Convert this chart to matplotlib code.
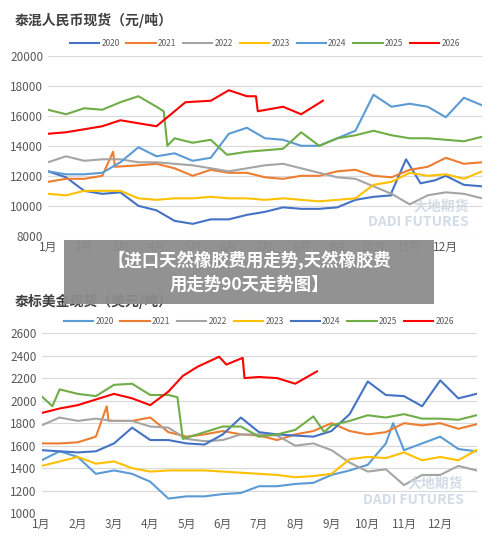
import matplotlib
matplotlib.use("Agg")
import matplotlib.pyplot as plt
from matplotlib.patches import Rectangle

plt.rcParams['font.family'] = ['Noto Sans CJK SC', 'DejaVu Sans']

months = [f"{i}月" for i in range(1, 13)]
years = ['2020', '2021', '2022', '2023', '2024', '2025', '2026']
grid05 = [i * 0.5 for i in range(25)]

# Top chart: 泰混人民币现货
top_x = {
    '2020': grid05[:20] + [9.5, 9.9, 10.3, 10.7, 11, 11.5, 12],
    '2021': grid05[:4] + [1.8, 1.85] + grid05[5:],
    '2022': grid05,
    '2023': grid05,
    '2024': grid05[:16] + [8, 8.5, 9, 9.5, 10, 10.5, 11, 11.5, 12],
    '2025': [0, 0.5, 1, 1.5, 2, 2.5, 3, 3.2, 3.3, 3.5, 4, 4.5, 4.95, 5.5, 6, 6.5, 7, 7.5, 8, 8.5, 9, 9.5, 10, 10.5, 11, 11.5, 12],
    '2026': [0, 0.5, 1, 1.5, 2, 2.5, 3, 3.3, 3.8, 4.5, 5, 5.5, 5.75, 5.8, 6.5, 7, 7.6],
}
top_y = {
    '2020': [12300, 11900, 11000, 10800, 10900, 10000, 9700, 9000, 8800, 9100, 9100, 9400, 9600, 9900, 9800, 9800, 9900, 10400, 10600, 10700,
             10900, 13100, 11500, 11700, 12000, 11400, 11300],
    '2021': [11600, 11800, 11800, 12000, 13600, 12600, 12700, 12800, 12500, 12000, 12400, 12200, 12200, 11900, 11800, 12000, 12000, 12300, 12400,
             12000, 11900, 12400, 12600, 13200, 12800, 12900],
    '2022': [12900, 13300, 13000, 13100, 13100, 12900, 12900, 12800, 12700, 12500, 12300, 12500, 12700, 12800, 12500, 12200, 11900, 11800,
             11300, 10800, 10100, 10700, 10900, 10800, 10500],
    '2023': [10800, 10700, 11000, 11000, 11000, 10500, 10400, 10500, 10500, 10600, 10500, 10500, 10400, 10500, 10400, 10300, 10400, 10500,
             11400, 11600, 12200, 12000, 12100, 11800, 12300],
    '2024': [12300, 12100, 12100, 12200, 12900, 13900, 13300, 13500, 13000, 13200, 14800, 15200, 14500, 14400, 14000, 14000,
             14500, 15000, 17400, 16600, 16800, 16600, 15900, 17200, 16700],
    '2025': [16400, 16100, 16500, 16400, 16900, 17300, 16600, 16300, 14000, 14500, 14200, 14400, 13400, 13600, 13700, 13800, 14900, 14000,
             14500, 14700, 15000, 14700, 14500, 14500, 14400, 14300, 14600],
    '2026': [14800, 14900, 15100, 15300, 15700, 15500, 15300, 15900, 16900, 17000, 17700, 17300, 17300, 16300, 16600, 16100, 17000],
}
top_colors = {'2020': '#4472C4', '2021': '#ED7D31', '2022': '#A5A5A5', '2023': '#FFC000',
              '2024': '#5B9BD5', '2025': '#70AD47', '2026': '#FF0000'}

# Bottom chart: 泰标美金现货
bot_x = {
    '2020': grid05[:19] + [9.5, 9.7, 10, 10.5, 11, 11.5, 12],
    '2021': grid05[:4] + [1.8, 1.85] + grid05[5:],
    '2022': grid05,
    '2023': grid05,
    '2024': grid05,
    '2025': [0, 0.3, 0.5, 1, 1.5, 2, 2.5, 3, 3.5, 3.75, 3.9, 4.5, 5, 5.5, 6, 6.5, 7, 7.5, 7.8, 8, 8.5, 9, 9.5, 10, 10.5, 11, 11.5, 12],
    '2026': [0, 0.5, 1, 1.5, 2, 2.5, 3, 3.5, 3.9, 4.3, 4.9, 5.1, 5.55, 5.6, 6, 6.5, 7, 7.6],
}
bot_y = {
    '2020': [1470, 1550, 1500, 1350, 1380, 1350, 1280, 1130, 1150, 1150, 1170, 1180, 1240, 1240, 1260, 1270, 1340, 1380, 1430,
             1620, 1800, 1560, 1620, 1680, 1570, 1550],
    '2021': [1620, 1620, 1630, 1680, 1950, 1820, 1820, 1850, 1720, 1680, 1700, 1730, 1700, 1690, 1650, 1700, 1730, 1800, 1730,
             1700, 1720, 1800, 1780, 1800, 1750, 1790],
    '2022': [1780, 1850, 1820, 1840, 1820, 1820, 1770, 1760, 1660, 1640, 1650, 1700, 1700, 1690, 1600, 1620, 1560, 1450, 1370,
             1390, 1250, 1340, 1340, 1420, 1380],
    '2023': [1420, 1460, 1500, 1440, 1460, 1400, 1370, 1380, 1380, 1380, 1370, 1360, 1350, 1340, 1320, 1330, 1350, 1480, 1500,
             1490, 1540, 1470, 1500, 1470, 1560],
    '2024': [1560, 1550, 1540, 1550, 1620, 1760, 1650, 1650, 1620, 1610, 1700, 1850, 1720, 1700, 1690, 1680, 1730, 1880, 2170,
             2050, 2040, 1950, 2180, 2020, 2060],
    '2025': [2040, 1950, 2100, 2060, 2040, 2140, 2150, 2050, 2050, 2030, 1660, 1720, 1770, 1770, 1680, 1700, 1740, 1860, 1720,
             1780, 1820, 1870, 1850, 1880, 1840, 1840, 1830, 1870],
    '2026': [1890, 1930, 1960, 2010, 2060, 2020, 1960, 2080, 2220, 2300, 2390, 2320, 2380, 2200, 2210, 2200, 2150, 2260],
}
bot_colors = {'2020': '#5B9BD5', '2021': '#ED7D31', '2022': '#A5A5A5', '2023': '#FFC000',
              '2024': '#4472C4', '2025': '#70AD47', '2026': '#FF0000'}

fig = plt.figure(figsize=(5.0, 5.46), dpi=100)


def draw(ax, xs, ys, colors, ylim, yticks):
    for yr in years:
        ax.plot(xs[yr], ys[yr], color=colors[yr], lw=1.5, label=yr)
    ax.set_xlim(0, 12)
    ax.set_ylim(*ylim)
    ax.set_yticks(yticks)
    ax.set_xticks(range(12))
    ax.set_xticklabels(months)
    for s in ax.spines.values():
        s.set_visible(False)
    ax.grid(axis='y', color='#d9d9d9', lw=0.8)
    ax.set_axisbelow(True)
    ax.tick_params(length=0, labelsize=8.5, colors='#595959')
    ax.legend(loc='lower center', bbox_to_anchor=(0.5, 1.0), ncol=7, frameon=False,
              fontsize=6, handlelength=3.5, columnspacing=0.8, handletextpad=0.3, labelcolor='#595959')
    ax.text(0.97, 0.12, '大地期货\nDADI FUTURES', transform=ax.transAxes, ha='right', va='center',
            fontsize=10, color='#c9d3e0', fontweight='bold', alpha=0.8)


ax1 = fig.add_axes([0.096, 0.568, 0.868, 0.33])
draw(ax1, top_x, top_y, top_colors, (8000, 20000), range(8000, 20001, 2000))
fig.text(0.03, 0.955, '泰混人民币现货（元/吨）', fontsize=10, fontweight='bold', color='#404040')

ax2 = fig.add_axes([0.083, 0.06, 0.87, 0.33])
draw(ax2, bot_x, bot_y, bot_colors, (1000, 2600), range(1000, 2601, 200))
fig.text(0.03, 0.44, '泰标美金现货（美元/吨）', fontsize=10, fontweight='bold', color='#404040')

fig.patches.append(Rectangle((64 / 500, 1 - 304 / 546), 370 / 500, 64 / 546, transform=fig.transFigure,
                             facecolor='#8c8c8c', alpha=0.95, edgecolor='none', zorder=10))
fig.text(249 / 500, 1 - 272 / 546, '【进口天然橡胶费用走势,天然橡胶费\n用走势90天走势图】', ha='center', va='center',
         fontsize=12.5, fontweight='bold', color='white', zorder=11, linespacing=1.4)

fig.savefig('out.png', dpi=100)
